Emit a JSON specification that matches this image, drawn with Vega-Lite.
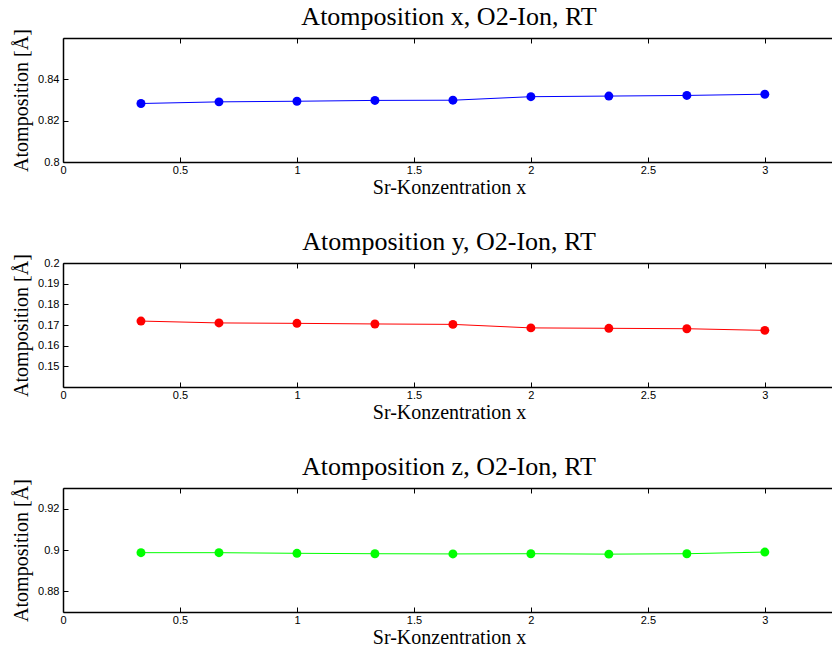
{
  "$schema": "https://vega.github.io/schema/vega-lite/v6.json",
  "padding": {"left": 11, "top": 3, "right": 0, "bottom": 0},
  "background": "white",
  "config": {
    "view": {"stroke": null},
    "axis": {
      "grid": false,
      "domainColor": "#000000",
      "domainWidth": 1.5,
      "tickColor": "#000000",
      "tickSize": -5,
      "tickWidth": 1,
      "tickCount": 20,
      "labelFont": "Liberation Sans",
      "labelFontSize": 11,
      "labelColor": "#000000",
      "labelPadding": 9,
      "labelFlush": false,
      "labelOverlap": false,
      "titleFont": "Liberation Serif",
      "titleFontSize": 20,
      "titleFontWeight": "normal",
      "titleColor": "#000000"
    },
    "axisX": {"labelPadding": 7},
    "title": {"font": "Liberation Serif", "fontSize": 26, "fontWeight": "normal", "color": "#000000", "offset": -1}
  },
  "data": {
    "values": [
      {"sr": 0.3333, "c": "x", "v": 0.8283},
      {"sr": 0.6667, "c": "x", "v": 0.8291},
      {"sr": 1.0, "c": "x", "v": 0.8294},
      {"sr": 1.3333, "c": "x", "v": 0.8298},
      {"sr": 1.6667, "c": "x", "v": 0.8299},
      {"sr": 2.0, "c": "x", "v": 0.8316},
      {"sr": 2.3333, "c": "x", "v": 0.8319},
      {"sr": 2.6667, "c": "x", "v": 0.8322},
      {"sr": 3.0, "c": "x", "v": 0.8328},
      {"sr": 0.3333, "c": "y", "v": 0.1719},
      {"sr": 0.6667, "c": "y", "v": 0.1710},
      {"sr": 1.0, "c": "y", "v": 0.1708},
      {"sr": 1.3333, "c": "y", "v": 0.1705},
      {"sr": 1.6667, "c": "y", "v": 0.1703},
      {"sr": 2.0, "c": "y", "v": 0.1686},
      {"sr": 2.3333, "c": "y", "v": 0.1684},
      {"sr": 2.6667, "c": "y", "v": 0.1682},
      {"sr": 3.0, "c": "y", "v": 0.1674},
      {"sr": 0.3333, "c": "z", "v": 0.8987},
      {"sr": 0.6667, "c": "z", "v": 0.8987},
      {"sr": 1.0, "c": "z", "v": 0.8984},
      {"sr": 1.3333, "c": "z", "v": 0.8982},
      {"sr": 1.6667, "c": "z", "v": 0.8981},
      {"sr": 2.0, "c": "z", "v": 0.8982},
      {"sr": 2.3333, "c": "z", "v": 0.8980},
      {"sr": 2.6667, "c": "z", "v": 0.8982},
      {"sr": 3.0, "c": "z", "v": 0.8990}
    ]
  },
  "spacing": 31,
  "vconcat": [
    {
      "title": "Atomposition x, O2-Ion, RT",
      "width": 772,
      "height": 124,
      "transform": [{"filter": "datum.c === 'x'"}],
      "resolve": {"axis": {"x": "independent"}},
      "layer": [
        {
          "mark": {"type": "line", "color": "#0000ff", "strokeWidth": 1},
          "encoding": {
            "x": {"field": "sr", "type": "quantitative", "scale": {"domain": [0, 3.3], "nice": false, "zero": false},
                  "axis": {"values": [0, 0.5, 1, 1.5, 2, 2.5, 3], "format": "~g", "title": "Sr-Konzentration x", "titlePadding": 2}},
            "y": {"field": "v", "type": "quantitative", "scale": {"domain": [0.8, 0.86], "nice": false, "zero": false},
                  "axis": {"values": [0.8, 0.82, 0.84], "format": "~g", "tickCount": 20, "title": "Atomposition [Å]", "titlePadding": 6}}
          }
        },
        {
          "mark": {"type": "point", "filled": true, "color": "#0000ff", "size": 80, "opacity": 1},
          "encoding": {
            "x": {"field": "sr", "type": "quantitative",
                  "axis": {"orient": "top", "values": [0, 0.5, 1, 1.5, 2, 2.5, 3], "labels": false, "title": null}},
            "y": {"field": "v", "type": "quantitative"}
          }
        }
      ]
    },
    {
      "title": "Atomposition y, O2-Ion, RT",
      "width": 772,
      "height": 124,
      "transform": [{"filter": "datum.c === 'y'"}],
      "resolve": {"axis": {"x": "independent"}},
      "layer": [
        {
          "mark": {"type": "line", "color": "#ff0000", "strokeWidth": 1},
          "encoding": {
            "x": {"field": "sr", "type": "quantitative", "scale": {"domain": [0, 3.3], "nice": false, "zero": false},
                  "axis": {"values": [0, 0.5, 1, 1.5, 2, 2.5, 3], "format": "~g", "title": "Sr-Konzentration x", "titlePadding": 2}},
            "y": {"field": "v", "type": "quantitative", "scale": {"domain": [0.14, 0.2], "nice": false, "zero": false},
                  "axis": {"values": [0.15, 0.16, 0.17, 0.18, 0.19, 0.2], "format": "~g", "tickCount": 20, "title": "Atomposition [Å]", "titlePadding": 6}}
          }
        },
        {
          "mark": {"type": "point", "filled": true, "color": "#ff0000", "size": 80, "opacity": 1},
          "encoding": {
            "x": {"field": "sr", "type": "quantitative",
                  "axis": {"orient": "top", "values": [0, 0.5, 1, 1.5, 2, 2.5, 3], "labels": false, "title": null}},
            "y": {"field": "v", "type": "quantitative"}
          }
        }
      ]
    },
    {
      "title": "Atomposition z, O2-Ion, RT",
      "width": 772,
      "height": 124,
      "transform": [{"filter": "datum.c === 'z'"}],
      "resolve": {"axis": {"x": "independent"}},
      "layer": [
        {
          "mark": {"type": "line", "color": "#00ff00", "strokeWidth": 1},
          "encoding": {
            "x": {"field": "sr", "type": "quantitative", "scale": {"domain": [0, 3.3], "nice": false, "zero": false},
                  "axis": {"values": [0, 0.5, 1, 1.5, 2, 2.5, 3], "format": "~g", "title": "Sr-Konzentration x", "titlePadding": 2}},
            "y": {"field": "v", "type": "quantitative", "scale": {"domain": [0.87, 0.93], "nice": false, "zero": false},
                  "axis": {"values": [0.88, 0.9, 0.92], "format": "~g", "tickCount": 20, "title": "Atomposition [Å]", "titlePadding": 6}}
          }
        },
        {
          "mark": {"type": "point", "filled": true, "color": "#00ff00", "size": 80, "opacity": 1},
          "encoding": {
            "x": {"field": "sr", "type": "quantitative",
                  "axis": {"orient": "top", "values": [0, 0.5, 1, 1.5, 2, 2.5, 3], "labels": false, "title": null}},
            "y": {"field": "v", "type": "quantitative"}
          }
        }
      ]
    }
  ]
}
